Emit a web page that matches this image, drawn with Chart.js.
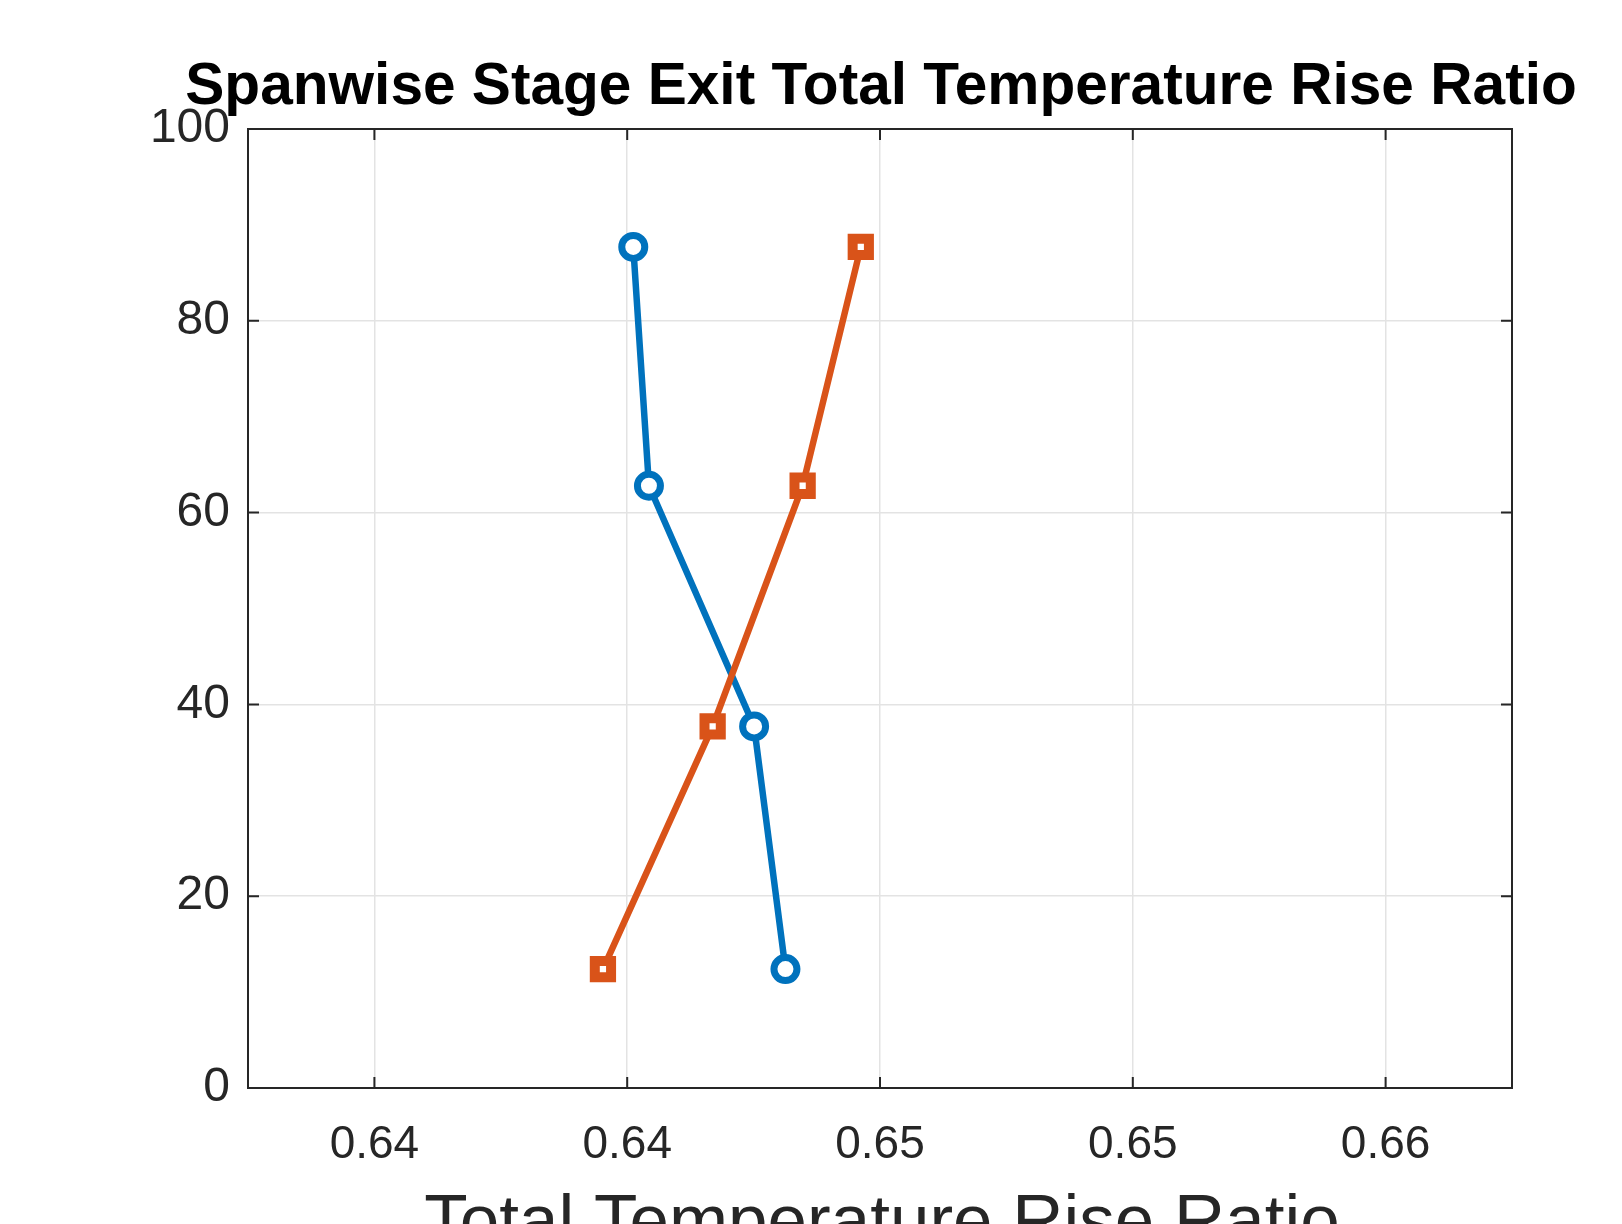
<!DOCTYPE html>
<html>
<head>
<meta charset="utf-8">
<script src="https://cdn.jsdelivr.net/npm/chart.js@4.4.1/dist/chart.umd.min.js"></script>
<style>
  html, body { margin: 0; padding: 0; background: #fff; }
  #wrap { width: 1622px; height: 1224px; position: relative; }
</style>
</head>
<body>
<div id="wrap"><canvas id="chart" width="1622" height="1224"></canvas></div>
<script>
// DATA
const spanPct = [87.7, 62.8, 37.7, 12.4];
const ratioBlue = [0.64012, 0.64043, 0.64251, 0.64313];
const ratioOrange = [0.64462, 0.64347, 0.64169, 0.63952];
const xTickValues = [0.635, 0.64, 0.645, 0.65, 0.655];
const xTickLabels = ['0.64', '0.64', '0.65', '0.65', '0.66'];
const yTickValues = [0, 20, 40, 60, 80, 100];
const chartTitle = 'Spanwise Stage Exit Total Temperature Rise Ratio';
const xTitle = 'Total Temperature Rise Ratio';

const axisColor = '#262626';
const font = 'Liberation Sans, Arial, Helvetica, sans-serif';

function toPoints(xs, ys) {
  return xs.map((x, i) => ({ x: x, y: ys[i] }));
}

// box, inward ticks, title and x label (matlab style)
const matlabFrame = {
  id: 'matlabFrame',
  afterDraw(chart) {
    const ctx = chart.ctx;
    const a = chart.chartArea;
    const xs = chart.scales.x;
    const ys = chart.scales.y;
    ctx.save();
    ctx.strokeStyle = axisColor;
    ctx.lineWidth = 2;
    ctx.strokeRect(a.left, a.top, a.right - a.left, a.bottom - a.top);

    const tl = 11;
    ctx.beginPath();
    xTickValues.forEach(v => {
      const px = xs.getPixelForValue(v);
      ctx.moveTo(px, a.bottom); ctx.lineTo(px, a.bottom - tl);
      ctx.moveTo(px, a.top); ctx.lineTo(px, a.top + tl);
    });
    yTickValues.forEach(v => {
      const py = ys.getPixelForValue(v);
      ctx.moveTo(a.left, py); ctx.lineTo(a.left + tl, py);
      ctx.moveTo(a.right, py); ctx.lineTo(a.right - tl, py);
    });
    ctx.stroke();

    const cx = (a.left + a.right) / 2;
    ctx.fillStyle = '#000';
    ctx.textAlign = 'center';
    ctx.textBaseline = 'alphabetic';
    ctx.font = 'bold 58.6px ' + font;
    ctx.fillText(chartTitle, cx + 1, 104);

    ctx.fillStyle = axisColor;
    ctx.font = '71px ' + font;
    ctx.fillText(xTitle, cx + 2, 1244);
    ctx.restore();
  }
};

const ctx = document.getElementById('chart').getContext('2d');
new Chart(ctx, {
  type: 'scatter',
  data: {
    datasets: [{
      label: 'Blue',
      data: toPoints(ratioBlue, spanPct),
      showLine: true,
      borderColor: '#0072BD',
      backgroundColor: '#ffffff',
      borderWidth: 6.5,
      pointStyle: 'circle',
      pointRadius: 11.5,
      pointBorderWidth: 7,
      pointBorderColor: '#0072BD',
      pointBackgroundColor: '#ffffff',
      order: 2
    }, {
      label: 'Orange',
      data: toPoints(ratioOrange, spanPct),
      showLine: true,
      borderColor: '#D95319',
      backgroundColor: '#ffffff',
      borderWidth: 6.5,
      pointStyle: 'rect',
      pointRadius: 11.5,
      pointBorderWidth: 10,
      pointBorderColor: '#D95319',
      pointBackgroundColor: '#ffffff',
      order: 1
    }]
  },
  options: {
    responsive: false,
    animation: false,
    layout: { padding: { left: 0, right: 110, top: 129, bottom: 0 } },
    plugins: {
      legend: { display: false },
      tooltip: { enabled: false },
      title: { display: false }
    },
    scales: {
      x: {
        type: 'linear',
        min: 0.6325,
        max: 0.6575,
        afterBuildTicks: scale => {
          scale.ticks = xTickValues.map(v => ({ value: v }));
        },
        afterFit: scale => { scale.height = 136; },
        ticks: {
          color: axisColor,
          font: { family: font, size: 46 },
          padding: 30,
          maxRotation: 0,
          autoSkip: false,
          callback: (value, index) => xTickLabels[index]
        },
        grid: { color: '#e3e3e3', lineWidth: 1.5, drawTicks: false },
        border: { display: false }
      },
      y: {
        type: 'linear',
        min: 0,
        max: 100,
        afterBuildTicks: scale => {
          scale.ticks = yTickValues.map(v => ({ value: v }));
        },
        afterFit: scale => { scale.width = 248; },
        ticks: {
          color: axisColor,
          font: { family: font, size: 48 },
          padding: 18
        },
        grid: { color: '#e3e3e3', lineWidth: 1.5, drawTicks: false },
        border: { display: false }
      }
    }
  },
  plugins: [matlabFrame]
});
</script>
</body>
</html>
